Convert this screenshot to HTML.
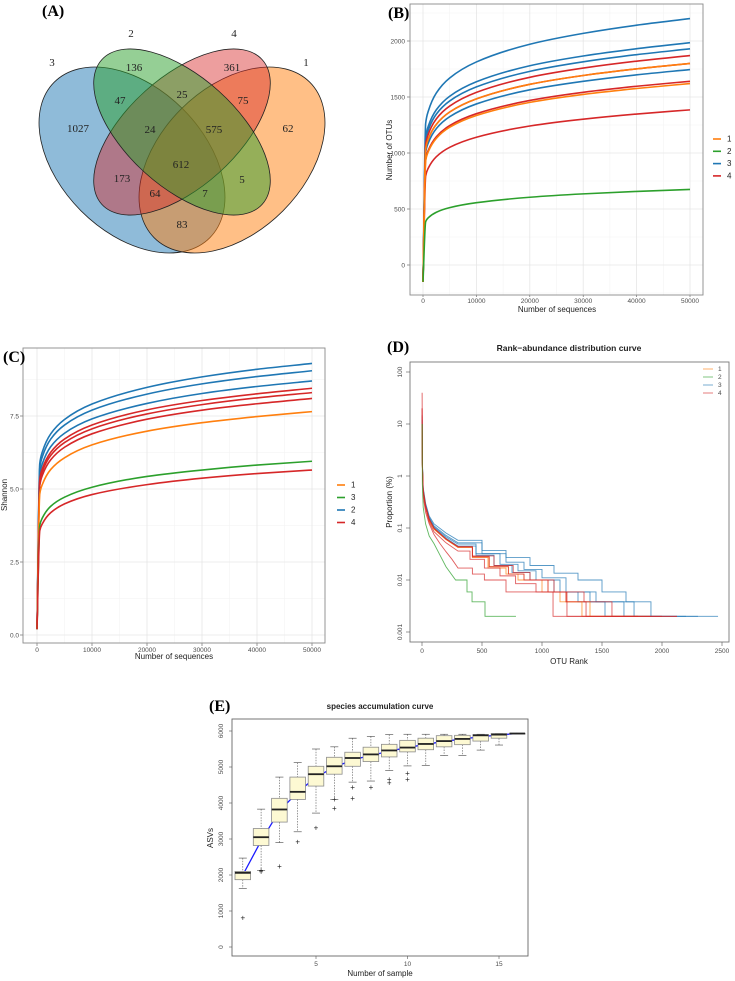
<!DOCTYPE html>
<html><head><meta charset="utf-8"><style>
html,body{margin:0;padding:0;background:#fff;}
svg{display:block;font-family:"Liberation Sans",sans-serif;}
.pl{font-family:"Liberation Serif",serif;font-weight:bold;font-size:16px;}
.tk{font-size:6.5px;fill:#4d4d4d;}
.at{font-size:8px;fill:#222;}
.vn{font-family:"Liberation Serif",serif;font-size:11px;fill:#222;}
</style></head><body>
<svg id="fig" width="735" height="981" viewBox="0 0 735 981" xmlns="http://www.w3.org/2000/svg">
<g id="venn">
<text class="pl" x="42" y="16">(A)</text>
<ellipse cx="132" cy="160" rx="110" ry="72" transform="rotate(45 132 160)" fill="#1f77b4" fill-opacity="0.5" stroke="#222" stroke-width="0.8"/>
<ellipse cx="232" cy="160" rx="110" ry="72" transform="rotate(-45 232 160)" fill="#ff7f0e" fill-opacity="0.5" stroke="#222" stroke-width="0.8"/>
<ellipse cx="182" cy="132" rx="108" ry="55" transform="rotate(-42 182 132)" fill="#d62728" fill-opacity="0.45" stroke="#222" stroke-width="0.8"/>
<ellipse cx="182" cy="132" rx="108" ry="55" transform="rotate(42 182 132)" fill="#2ca02c" fill-opacity="0.5" stroke="#222" stroke-width="0.8"/>
<g text-anchor="middle">
<text class="vn" x="52" y="66" font-size="13">3</text>
<text class="vn" x="131" y="37" font-size="13">2</text>
<text class="vn" x="234" y="37" font-size="13">4</text>
<text class="vn" x="306" y="66" font-size="13">1</text>
<text class="vn" x="134" y="71">136</text>
<text class="vn" x="232" y="71">361</text>
<text class="vn" x="120" y="104">47</text>
<text class="vn" x="182" y="98">25</text>
<text class="vn" x="243" y="104">75</text>
<text class="vn" x="78" y="132">1027</text>
<text class="vn" x="150" y="133">24</text>
<text class="vn" x="214" y="133">575</text>
<text class="vn" x="288" y="132">62</text>
<text class="vn" x="181" y="168">612</text>
<text class="vn" x="122" y="182">173</text>
<text class="vn" x="242" y="183">5</text>
<text class="vn" x="155" y="197">64</text>
<text class="vn" x="205" y="197">7</text>
<text class="vn" x="182" y="228">83</text>
</g>
</g>
<g id="pB"></g>
<g id="pC"></g>
<g id="pD"></g>
<g id="pE"></g>
</svg>
<script>
// ---------- data ----------
const rareDepths = [0,500,1000,2500,5000,10000,20000,30000,40000,50000];
const otuGroups = ['3','3','3','3','4','4','4','4','1','1','2'];
const otuValues = [
 [-150,1265,1375,1536,1670,1813,1971,2068,2141,2200],
 [-150,1141,1241,1386,1507,1636,1779,1866,1931,1985],
 [-150,1110,1206,1347,1465,1590,1729,1814,1878,1930],
 [-150,1003,1091,1218,1324,1438,1564,1640,1698,1745],
 [-150,1075,1169,1305,1419,1541,1676,1758,1820,1870],
 [-150,1035,1125,1256,1366,1483,1613,1692,1751,1800],
 [-150,943,1025,1145,1245,1351,1469,1542,1596,1640],
 [-150,796,866,967,1051,1141,1241,1302,1348,1385],
 [-150,1035,1125,1256,1366,1483,1613,1692,1751,1800],
 [-150,932,1013,1131,1230,1335,1452,1523,1576,1620],
 [-150,388,422,471,512,556,605,635,657,675]];
const otuYTicks = [0,500,1000,1500,2000];
const seqXTicks = [0,10000,20000,30000,40000,50000];
const otuLegend = ['1','2','3','4'];

const shanGroups = ['2','2','2','4','4','4','1','3','4'];
const shanValues = [
 [0.2,5.87,6.29,6.89,7.38,7.91,8.48,8.84,9.10,9.3],
 [0.2,5.71,6.12,6.71,7.19,7.70,8.25,8.60,8.85,9.05],
 [0.2,5.49,5.88,6.45,6.91,7.40,7.93,8.27,8.51,8.7],
 [0.2,5.33,5.71,6.26,6.71,7.19,7.71,8.03,8.26,8.45],
 [0.2,5.24,5.61,6.15,6.59,7.06,7.57,7.89,8.12,8.3],
 [0.2,5.11,5.48,6.00,6.43,6.89,7.39,7.70,7.92,8.1],
 [0.2,4.83,5.17,5.67,6.07,6.51,6.98,7.27,7.48,7.65],
 [0.2,3.75,4.02,4.41,4.72,5.06,5.43,5.65,5.82,5.95],
 [0.2,3.57,3.82,4.19,4.49,4.81,5.15,5.37,5.53,5.65]];
const shanYTicks = [0,2.5,5,7.5];
const shanYLabels = ['0.0','2.5','5.0','7.5'];
const shanLegend = ['1','3','2','4'];

const rankGroups = ['3','3','3','3','1','1','4','4','4','4','2'];
const rankRanks = [
 [1,3,10,30,60,100,200,300,500,700,900,1100,1300,1500,1700,1908,2467],
 [1,3,10,30,60,100,200,300,500,700,850,1000,1200,1450,1767,2300],
 [1,3,10,30,60,100,200,300,450,650,800,950,1150,1400,1683,2200],
 [1,3,10,30,60,100,200,300,450,600,750,900,1100,1300,1525,2000],
 [1,3,10,30,60,100,200,300,420,550,700,800,1000,1150,1333,1800],
 [1,3,10,30,60,100,200,300,420,560,720,850,1050,1200,1400,1900],
 [1,3,10,30,60,100,200,300,420,560,720,850,1050,1200,1367,2125],
 [1,3,10,30,60,100,200,300,420,600,760,900,1100,1350,1583,2000],
 [1,3,10,30,60,100,200,300,400,520,650,780,950,1208,1800],
 [1,3,10,30,60,100,150,200,250,300,420,520,700,850,1092,2125],
 [1,3,10,30,60,100,150,200,280,375,417,525,783]];
const rankProps = [
 [15,2,0.6,0.3,0.17,0.12,0.08,0.058,0.037,0.027,0.019,0.0135,0.01,0.0059,0.0038,0.002,0.002],
 [12,1.8,0.55,0.28,0.16,0.11,0.072,0.052,0.032,0.022,0.016,0.011,0.0059,0.0038,0.002,0.002],
 [12,1.8,0.55,0.27,0.155,0.105,0.068,0.049,0.032,0.02,0.015,0.01,0.0059,0.0038,0.002,0.002],
 [10,1.6,0.5,0.26,0.15,0.1,0.064,0.045,0.03,0.019,0.014,0.01,0.0059,0.0038,0.002,0.002],
 [10,1.6,0.5,0.25,0.14,0.095,0.06,0.042,0.027,0.017,0.013,0.01,0.0059,0.0038,0.002,0.002],
 [10,1.6,0.5,0.25,0.14,0.095,0.06,0.043,0.028,0.018,0.013,0.01,0.0059,0.0038,0.002,0.002],
 [40,1.8,0.55,0.27,0.15,0.1,0.062,0.044,0.028,0.018,0.013,0.01,0.0059,0.0038,0.002,0.002],
 [20,1.7,0.52,0.26,0.145,0.098,0.061,0.043,0.029,0.019,0.014,0.01,0.0059,0.0038,0.002,0.002],
 [14,1.6,0.5,0.24,0.13,0.085,0.052,0.036,0.025,0.017,0.012,0.0085,0.0059,0.002,0.002],
 [20,1.5,0.4,0.2,0.12,0.075,0.05,0.035,0.025,0.017,0.013,0.01,0.0059,0.0059,0.002,0.002],
 [10,0.7,0.25,0.12,0.07,0.05,0.03,0.018,0.01,0.0059,0.0038,0.002,0.002]];
const rankYTicks = [0.001,0.01,0.1,1,10,100];
const rankYLabels = ['0.001','0.01','0.1','1','10','100'];
const rankXTicks = [0,500,1000,1500,2000,2500];
const rankLegend = ['1','2','3','4'];

const accSamples = [1,2,3,4,5,6,7,8,9,10,11,12,13,14,15,16];
const accMin = [1630,2120,2900,3200,3720,4100,4580,4610,4900,5030,5040,5320,5320,5470,5610,5930];
const accQ1 = [1870,2820,3470,4100,4470,4800,5020,5150,5280,5420,5480,5560,5620,5720,5800,5930];
const accMed = [2060,3050,3820,4310,4800,5020,5250,5350,5460,5540,5640,5720,5780,5880,5900,5930];
const accQ3 = [2100,3290,4130,4720,5020,5270,5410,5550,5630,5740,5800,5870,5880,5900,5930,5930];
const accMax = [2470,3830,4720,5120,5500,5560,5800,5850,5900,5910,5910,5910,5910,5910,5930,5930];
const accMean = [2000,2950,3780,4300,4720,4990,5200,5320,5440,5540,5630,5710,5780,5840,5890,5930];
const accOutliers = [[800],[2080,2120],[2230],[2920],[3310],[3850,4100],[4120,4430],[4430],[4560,4650],[4650,4820],[],[],[],[],[],[]];
const accYTicks = [0,1000,2000,3000,4000,5000,6000];
const accXTicks = [5,10,15];

// ---------- helpers ----------
const NS='http://www.w3.org/2000/svg';
function mk(parent,tag,attrs,txt){const e=document.createElementNS(NS,tag);for(const k in attrs)e.setAttribute(k,attrs[k]);if(txt!==undefined)e.textContent=txt;parent.appendChild(e);return e;}
const COL={'1':'#ff7f0e','2':'#2ca02c','3':'#1f77b4','4':'#d62728'};
const COLC={'1':'#ff7f0e','3':'#2ca02c','2':'#1f77b4','4':'#d62728'};
function lin(d0,d1,r0,r1){return v=>r0+(v-d0)/(d1-d0)*(r1-r0);}
function monotonePath(xs,ys){
  const n=xs.length;const d=[],h=[];
  for(let i=0;i<n-1;i++){h.push(xs[i+1]-xs[i]);d.push((ys[i+1]-ys[i])/(xs[i+1]-xs[i]));}
  const m=[d[0]];
  for(let i=1;i<n-1;i++){ if(d[i-1]*d[i]<=0)m.push(0); else m.push(3*(h[i-1]+h[i])/((2*h[i]+h[i-1])/d[i-1]+(h[i]+2*h[i-1])/d[i])); }
  m.push(d[n-2]);
  let p='M'+xs[0].toFixed(2)+','+ys[0].toFixed(2);
  for(let i=0;i<n-1;i++){const t=h[i]/3;
    p+='C'+(xs[i]+t).toFixed(2)+','+(ys[i]+m[i]*t).toFixed(2)+' '+(xs[i+1]-t).toFixed(2)+','+(ys[i+1]-m[i+1]*t).toFixed(2)+' '+xs[i+1].toFixed(2)+','+ys[i+1].toFixed(2);}
  return p;}

// ---------- Panel B ----------
(function(){
 const g=document.getElementById('pB');
 const L=410,R=703,T=4,B=295;
 const x=lin(0,50000,423,690), y=lin(0,2000,265,41);
 mk(g,'rect',{x:L,y:T,width:R-L,height:B-T,fill:'#fff'});
 for(let v=5000;v<=45000;v+=10000){mk(g,'line',{x1:x(v),x2:x(v),y1:T,y2:B,stroke:'#f2f2f2','stroke-width':0.5});}
 for(let v=-250;v<=2250;v+=500){mk(g,'line',{x1:L,x2:R,y1:y(v),y2:y(v),stroke:'#f2f2f2','stroke-width':0.5});}
 seqXTicks.forEach(v=>{const e=mk(g,'line',{x1:x(v),x2:x(v),y1:T,y2:B,stroke:'#e6e6e6','stroke-width':0.8});
  
  
  mk(g,'line',{x1:x(v),x2:x(v),y1:B,y2:B+2,stroke:'#555','stroke-width':0.6});
  const t=mk(g,'text',{x:x(v),y:B+8,'text-anchor':'middle',class:'tk'},String(v));
  
  });
 otuYTicks.forEach(v=>{const e=mk(g,'line',{x1:L,x2:R,y1:y(v),y2:y(v),stroke:'#e6e6e6','stroke-width':0.8});
  
  
  mk(g,'line',{x1:L-3,x2:L,y1:y(v),y2:y(v),stroke:'#555','stroke-width':0.6});
  const t=mk(g,'text',{x:L-5,y:y(v)+2.3,'text-anchor':'end',class:'tk'},String(v));
  
  });
 otuValues.forEach((vals,i)=>{
  const p=mk(g,'path',{d:monotonePath(rareDepths.map(x),vals.map(y)),fill:'none',stroke:COL[otuGroups[i]],'stroke-width':1.6});
  
  });
 mk(g,'rect',{x:L,y:T,width:R-L,height:B-T,fill:'none',stroke:'#8a8a8a','stroke-width':0.9});
 const xt=mk(g,'text',{x:557,y:312,'text-anchor':'middle',class:'at'},'Number of sequences');
 
 
 const yt=mk(g,'text',{x:392,y:150,'text-anchor':'middle',class:'at',transform:'rotate(-90 392 150)'},'Number of OTUs');
 
 
 otuLegend.forEach((k,i)=>{const yy=139+i*12.3;
  const l=mk(g,'line',{x1:713,x2:721,y1:yy,y2:yy,stroke:COL[k],'stroke-width':1.6});
  
  
  const t=mk(g,'text',{x:727,y:yy+2.5,class:'at'},k);
  
  });
 const pl=mk(g,'text',{x:388,y:18,class:'pl'},'(B)');
 
 
})();

// ---------- Panel C ----------
(function(){
 const g=document.getElementById('pC');
 const L=23,R=325,T=348,B=643;
 const x=lin(0,50000,37,312), y=lin(0,7.5,635,416);
 for(let v=5000;v<=45000;v+=10000){mk(g,'line',{x1:x(v),x2:x(v),y1:T,y2:B,stroke:'#f2f2f2','stroke-width':0.5});}
 for(let v=1.25;v<=8.75;v+=2.5){mk(g,'line',{x1:L,x2:R,y1:y(v),y2:y(v),stroke:'#f2f2f2','stroke-width':0.5});}
 seqXTicks.forEach(v=>{const e=mk(g,'line',{x1:x(v),x2:x(v),y1:T,y2:B,stroke:'#e6e6e6','stroke-width':0.8});
  
  
  mk(g,'line',{x1:x(v),x2:x(v),y1:B,y2:B+3,stroke:'#555','stroke-width':0.6});
  const t=mk(g,'text',{x:x(v),y:B+9,'text-anchor':'middle',class:'tk'},String(v));
  
  });
 shanYTicks.forEach((v,i)=>{const e=mk(g,'line',{x1:L,x2:R,y1:y(v),y2:y(v),stroke:'#e6e6e6','stroke-width':0.8});
  
  
  mk(g,'line',{x1:L-3,x2:L,y1:y(v),y2:y(v),stroke:'#555','stroke-width':0.6});
  const t=mk(g,'text',{x:L-4,y:y(v)+2.3,'text-anchor':'end',class:'tk'},shanYLabels[i]);
  
  });
 shanValues.forEach((vals,i)=>{
  const p=mk(g,'path',{d:monotonePath(rareDepths.map(x),vals.map(y)),fill:'none',stroke:COLC[shanGroups[i]],'stroke-width':1.6});
  
  });
 mk(g,'rect',{x:L,y:T,width:R-L,height:B-T,fill:'none',stroke:'#8a8a8a','stroke-width':0.9});
 const xt=mk(g,'text',{x:174,y:659,'text-anchor':'middle',class:'at'},'Number of sequences');
 
 
 const yt=mk(g,'text',{x:7,y:495,'text-anchor':'middle',class:'at',transform:'rotate(-90 7 495)'},'Shannon');
 
 
 shanLegend.forEach((k,i)=>{const yy=485+i*12.5;
  const l=mk(g,'line',{x1:337,x2:345,y1:yy,y2:yy,stroke:COLC[k],'stroke-width':1.6});
  
  
  const t=mk(g,'text',{x:351,y:yy+2.5,class:'at'},k);
  
  });
 const pl=mk(g,'text',{x:3,y:362,class:'pl'},'(C)');
 
 
})();

// ---------- Panel D ----------
(function(){
 const g=document.getElementById('pD');
 const L=410,R=729,T=362,B=642;
 const x=lin(0,2500,422,722);
 const y=v=>632-(Math.log10(v)+3)*52;
 const t0=mk(g,'text',{x:569,y:351,'text-anchor':'middle','font-size':'8.5','font-weight':'bold',fill:'#222'},'Rank\u2212abundance distribution curve');
 
 
 rankRanks.forEach((rs,i)=>{
  const ps=rankProps[i];
  let d='M'+x(rs[0]).toFixed(2)+','+y(ps[0]).toFixed(2);
  for(let j=1;j<rs.length;j++){
   if(rs[j]<=300) d+='L'+x(rs[j]).toFixed(2)+','+y(ps[j]).toFixed(2);
   else d+='H'+x(rs[j]).toFixed(2)+'V'+y(ps[j]).toFixed(2);
  }
  const p=mk(g,'path',{d:d,fill:'none',stroke:COL[rankGroups[i]],'stroke-width':0.9,'stroke-opacity':0.75});
  
  });
 mk(g,'rect',{x:L,y:T,width:R-L,height:B-T,fill:'none',stroke:'#777','stroke-width':0.9});
 rankXTicks.forEach(v=>{mk(g,'line',{x1:x(v),x2:x(v),y1:B,y2:B+4,stroke:'#555','stroke-width':0.6});
  const t=mk(g,'text',{x:x(v),y:B+11,'text-anchor':'middle',class:'tk'},String(v));
  
  });
 rankYTicks.forEach((v,i)=>{mk(g,'line',{x1:L-4,x2:L,y1:y(v),y2:y(v),stroke:'#555','stroke-width':0.6});
  const t=mk(g,'text',{x:402,y:y(v),'text-anchor':'middle',class:'tk','font-size':'5.5',transform:'rotate(-90 402 '+y(v)+')'},rankYLabels[i]);
  
  });
 const xt=mk(g,'text',{x:569,y:664,'text-anchor':'middle',class:'at'},'OTU Rank');
 
 
 const yt=mk(g,'text',{x:392,y:502,'text-anchor':'middle',class:'at',transform:'rotate(-90 392 502)'},'Proportion (%)');
 
 
 rankLegend.forEach((k,i)=>{const yy=369+i*8;
  const l=mk(g,'line',{x1:703,x2:713,y1:yy,y2:yy,stroke:COL[k],'stroke-width':1,'stroke-opacity':0.6});
  
  
  const t=mk(g,'text',{x:718,y:yy+2,class:'tk','font-size':'6',fill:'#333'},k);
  
  });
 const pl=mk(g,'text',{x:387,y:352,class:'pl'},'(D)');
 
 
})();

// ---------- Panel E ----------
(function(){
 const g=document.getElementById('pE');
 const L=232,R=528,T=719,B=956;
 const x=lin(5,15,316,499), y=lin(0,6000,947,731);
 const t0=mk(g,'text',{x:380,y:709,'text-anchor':'middle','font-size':'8','font-weight':'bold',fill:'#222'},'species accumulation curve');
 
 
 const pts=accSamples.map((s,i)=>x(s).toFixed(2)+','+y(accMean[i]).toFixed(2)).join(' ');
 const ml=mk(g,'polyline',{points:pts,fill:'none',stroke:'#1a1aff','stroke-width':1.3});
 
 
 const hw=7.8;
 accSamples.forEach((s,i)=>{
  const cx=x(s);
  const bg=mk(g,'g',{});
  
  
  mk(bg,'line',{x1:cx,x2:cx,y1:y(accMax[i]),y2:y(accQ3[i]),stroke:'#555','stroke-width':0.6,'stroke-dasharray':'1.5,1.2'});
  mk(bg,'line',{x1:cx,x2:cx,y1:y(accQ1[i]),y2:y(accMin[i]),stroke:'#555','stroke-width':0.6,'stroke-dasharray':'1.5,1.2'});
  mk(bg,'line',{x1:cx-4,x2:cx+4,y1:y(accMax[i]),y2:y(accMax[i]),stroke:'#444','stroke-width':0.6});
  mk(bg,'line',{x1:cx-4,x2:cx+4,y1:y(accMin[i]),y2:y(accMin[i]),stroke:'#444','stroke-width':0.6});
  mk(bg,'rect',{x:cx-hw,y:y(accQ3[i]),width:2*hw,height:Math.max(0.5,y(accQ1[i])-y(accQ3[i])),fill:'#fdf9d3',stroke:'#8c8c8c','stroke-width':0.8});
  mk(bg,'line',{x1:cx-hw,x2:cx+hw,y1:y(accMed[i]),y2:y(accMed[i]),stroke:'#222','stroke-width':1.8});
  accOutliers[i].forEach(o=>{mk(bg,'text',{x:cx,y:y(o)+2.5,'text-anchor':'middle','font-size':'8',fill:'#222'},'+');});
 });
 mk(g,'rect',{x:L,y:T,width:R-L,height:B-T,fill:'none',stroke:'#666','stroke-width':0.9});
 accXTicks.forEach(v=>{mk(g,'line',{x1:x(v),x2:x(v),y1:B,y2:B+3,stroke:'#555','stroke-width':0.6});
  const t=mk(g,'text',{x:x(v),y:B+10,'text-anchor':'middle',class:'tk','font-size':'7.5',fill:'#333'},String(v));
  
  });
 accYTicks.forEach(v=>{mk(g,'line',{x1:L-3,x2:L,y1:y(v),y2:y(v),stroke:'#555','stroke-width':0.6});
  const t=mk(g,'text',{x:223,y:y(v),'text-anchor':'middle',class:'tk','font-size':'6.5',transform:'rotate(-90 223 '+y(v)+')'},String(v));
  
  });
 const xt=mk(g,'text',{x:380,y:976,'text-anchor':'middle',class:'at'},'Number of sample');
 
 
 const yt=mk(g,'text',{x:213,y:838,'text-anchor':'middle',class:'at',transform:'rotate(-90 213 838)'},'ASVs');
 
 
 const pl=mk(g,'text',{x:209,y:711,class:'pl'},'(E)');
 
 
})();
</script>
</body></html>
